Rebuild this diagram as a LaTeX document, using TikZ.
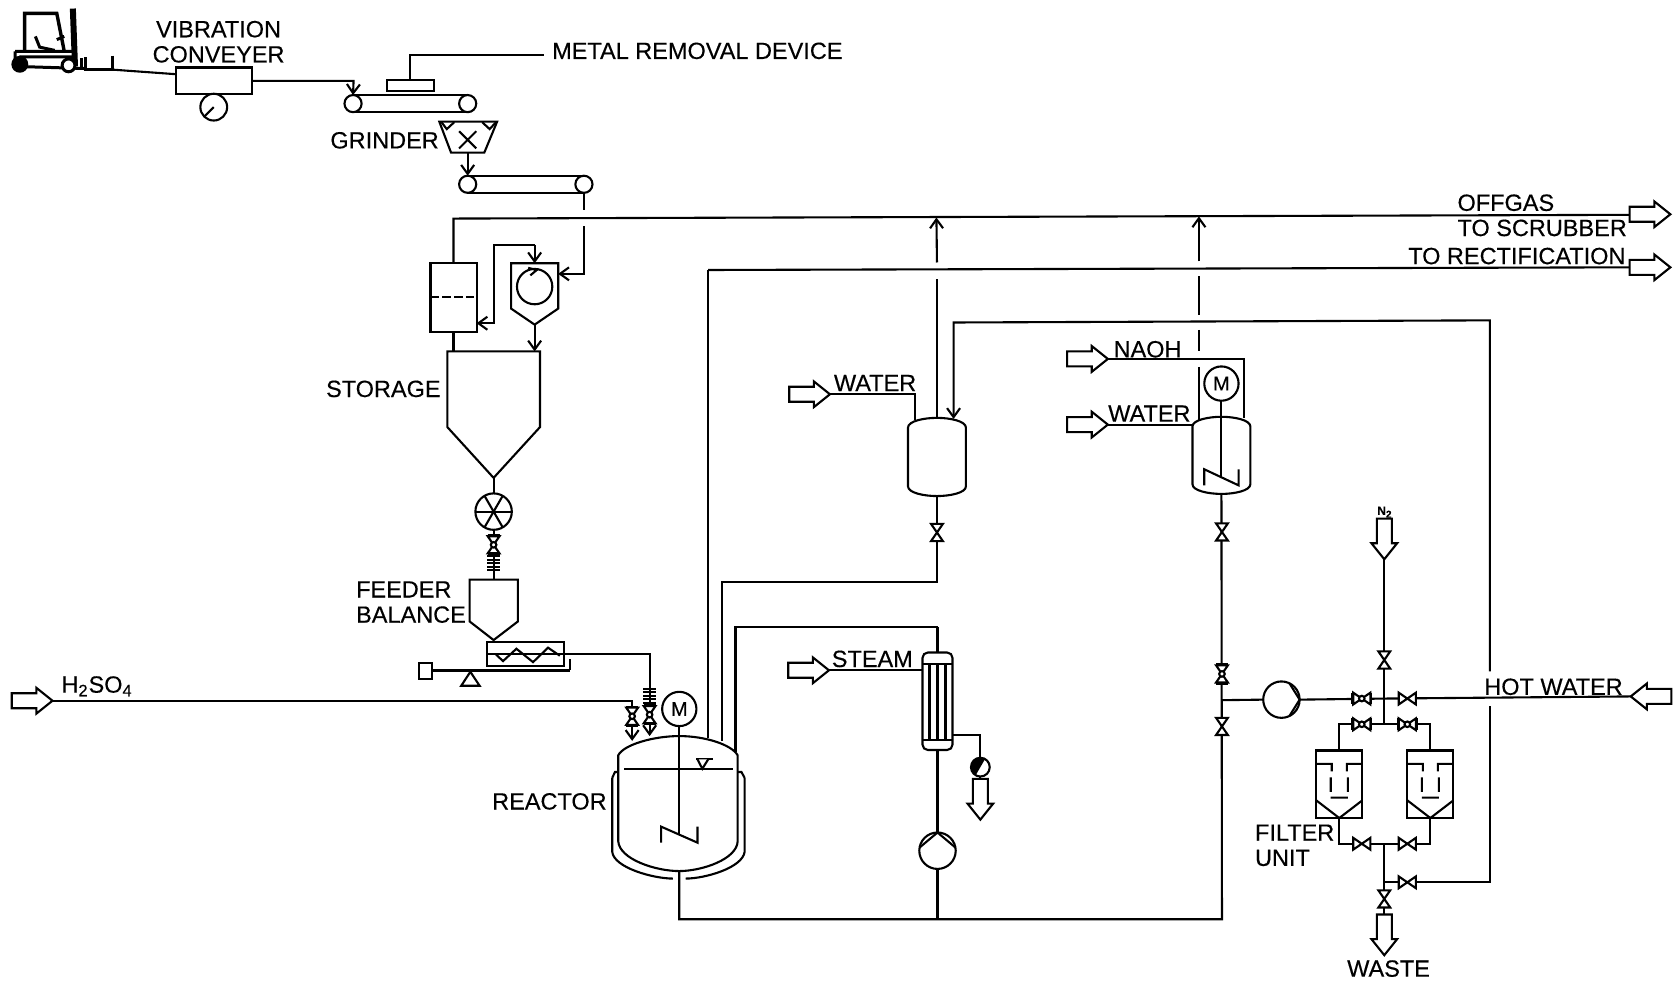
\documentclass[tikz,border=0pt]{standalone}
\usepackage{fontspec}
\setmainfont[RawFeature={embolden=0.35}]{Liberation Sans}
\usetikzlibrary{arrows.meta}

\newcommand{\unitpx}{0.53571pt}

\tikzset{
  pipe/.style={line width=1.05pt},
  flow/.style={pipe,-{Straight Barb[length=4.5pt,width=6.5pt]}},
  unit/.style={draw,pipe,fill=white,inner sep=0,outer sep=0},
  roller/.style={unit,circle,minimum size=16*\unitpx},
  pump/.style={unit,circle,minimum size=34*\unitpx},
  motor/.style={unit,circle,minimum size=32*\unitpx,font=\fontsize{10}{10}\selectfont},
  tag/.style={inner sep=0,anchor=west,align=left,font=\fontsize{11.75}{12.6}\selectfont},
  valve/.pic={\draw[pipe,fill=white] (-8,-5.5) -- (8,5.5) -- (8,-5.5) -- (-8,5.5) -- cycle;},
  ballvalve/.pic={
    \draw[pipe,fill=white] (-8,-5.5) -- (8,5.5) -- (8,-5.5) -- (-8,5.5) -- cycle;
    \draw[pipe] (-9,-5.5) -- (-9,5.5) (9,-5.5) -- (9,5.5);
    \draw[pipe,fill=white] (0,0) circle[radius=2.6];},
  bellows/.pic={\foreach \b in {-8,-4.8,...,8.1} \draw[pipe] (-6,\b) -- (6,\b);},
  blockarrow/.pic={\draw[pipe,fill=white] (-38,-7) -- (-15,-7) -- (-15,-12) -- (0,0)
    -- (-15,12) -- (-15,7) -- (-38,7) -- cycle;},
}

% stirrer blade under a shaft, #1 = centre on the shaft, #2 = half width
\newcommand{\blade}[2]{\draw[pipe] ([shift={(-#2,8)}]#1) -- ([shift={(-#2,-7)}]#1)
  -- ([shift={(#2,8)}]#1) -- ([shift={(#2,-7)}]#1);}

% dished vessel: #1 name, #2 centre x, #3 top, #4 bottom, #5 half width
\newcommand{\vessel}[5]{
  \draw[pipe,fill=white] ({#2-#5},{#3+9}) .. controls ({#2-#5},{#3+3}) and ({#2-12},{#3}) .. (#2,#3)
    .. controls ({#2+12},{#3}) and ({#2+#5},{#3+3}) .. ({#2+#5},{#3+9})
    -- ({#2+#5},{#4-9}) .. controls ({#2+#5},{#4-3}) and ({#2+12},{#4}) .. (#2,#4)
    .. controls ({#2-12},{#4}) and ({#2-#5},{#4-3}) .. ({#2-#5},{#4-9}) -- cycle;
  \coordinate (#1Top) at (#2,#3);
  \coordinate (#1Bot) at (#2,#4);}

% filter housing, #1 name, #2 centre x
\newcommand{\filterunit}[2]{
  \node[unit,minimum width=43*\unitpx,minimum height=63*\unitpx] (#1) at (#2,732) {};
  \draw[pipe] ({#2-21.5},713) -- ({#2-7},713) -- ({#2-7},720)
    ({#2+21.5},713) -- ({#2+7},713) -- ({#2+7},720)
    ({#2-8},725.5) -- ({#2-8},739) ({#2+8},725.5) -- ({#2+8},739)
    ({#2-8},744.5) -- ({#2+8},744.5)
    ({#2-21.5},747) -- (#2,763.5) -- ({#2+21.5},747);}

\begin{document}
\begin{tikzpicture}[x=\unitpx,y=-\unitpx]
  \useasboundingbox (0,0) rectangle (1568,916);

  % fork lift
  \draw[line width=1.7pt] (23,48) -- (23,12.5) -- (53,12.5) -- (60,48);
  \draw[line width=3pt] (68,8) -- (70,62);
  \draw[line width=1.5pt] (14,48) -- (71,48) (15,62) -- (80,64) (14,48) -- (14,60) (18,53) -- (70,53);
  \draw[line width=1.5pt] (33,34) -- (37,44) -- (51,47) (53,37) -- (60,34);
  \node[unit,circle,minimum size=12*\unitpx,line width=2pt,fill=black] (wheelA) at (18.5,60) {};
  \node[unit,circle,minimum size=12*\unitpx,line width=1.5pt] (wheelB) at (64,61) {};
  \coordinate (forkHeel) at (80,65);
  \coordinate (forkTip) at (105,65);
  \coordinate (forkTop) at (105,52);
  \draw[line width=1.6pt] (76,54) -- (76,65) (forkTop) -- (forkTip) -- (forkHeel) -- (80,53);

  % feeding line
  \node[unit,minimum width=71*\unitpx,minimum height=25*\unitpx] (conveyer) at (199.5,75.5) {};
  \node[unit,circle,minimum size=25*\unitpx] (gauge) at (199.5,100) {};
  \draw[pipe] (gauge.center) -- (gauge.225);
  \node[tag,anchor=center,align=center] (lblConveyer) at (204,39) {VIBRATION\\CONVEYER};
  \draw[pipe] (forkTip) -- (conveyer.170);

  \node[roller] (beltAl) at (329.5,96.7) {};
  \node[roller] (beltAr) at (436.5,96.7) {};
  \draw[pipe] (beltAl.north) -- (beltAr.north) (beltAl.south) -- (beltAr.south);
  \coordinate (beltAin) at (330,75.5);
  \draw[flow] (conveyer.east) -- (beltAin) -- (beltAl.north);

  \node[unit,minimum width=44*\unitpx,minimum height=10*\unitpx] (metal) at (383,80) {};
  \node[tag] (lblMetal) at (515,47.5) {METAL REMOVAL DEVICE};
  \coordinate (metalBend) at (383,51);
  \coordinate (metalEnd) at (508,51);
  \draw[pipe] (metal.north) -- (metalBend) -- (metalEnd);

  \coordinate (grindTop) at (436.5,113.5);
  \coordinate (grindBot) at (436.5,142.5);
  \draw[pipe] (410,113.5) -- (464,113.5) -- (452,142.5) -- (421,142.5) -- cycle;
  \draw[pipe] (412,114) -- (417,120.5) -- (424,114) (450,114) -- (457,120.5) -- (463,114);
  \draw[pipe] (428.5,122.5) -- (444.5,138.5) (444.5,122.5) -- (428.5,138.5);
  \node[tag] (lblGrinder) at (308,131) {GRINDER};

  \node[roller] (beltBl) at (436.5,172) {};
  \node[roller] (beltBr) at (545,172) {};
  \draw[pipe] (beltBl.north) -- (beltBr.north) (beltBl.south) -- (beltBr.south);
  \draw[flow] (grindBot) -- (beltBl.north);

  \coordinate (dropA) at (545,196);
  \coordinate (dropB) at (545,211);
  \coordinate (dropC) at (545,255.6);
  \coordinate (cycloneIn) at (521,255.6);
  \draw[pipe] (beltBr.south) -- (dropA);
  \draw[flow] (dropB) -- (dropC) -- (cycloneIn);

  % cyclone and surge box
  \coordinate (cycloneTop) at (499,245.7);
  \coordinate (cycloneTip) at (499,303);
  \draw[pipe] (477,245.7) -- (521,245.7) -- (521,288) -- (cycloneTip) -- (477,288) -- cycle;
  \node[unit,circle,minimum size=33*\unitpx] (cycloneWheel) at (499,267.5) {};
  \draw[pipe] (493,250) -- (501,252) -- (495,257);
  \node[unit,minimum width=43*\unitpx,minimum height=64*\unitpx] (surge) at (423.3,277.5) {};
  \draw[pipe,dash pattern=on 8*\unitpx off 3*\unitpx] (surge.west) -- (surge.east);
  \coordinate (returnA) at (461,228.6);
  \coordinate (returnB) at (499,228.6);
  \coordinate (returnC) at (461,301.7);
  \coordinate (returnD) at (444.8,301.7);
  \draw[flow] (returnB) -- (returnA) -- (returnC) -- (returnD);
  \draw[flow] (returnB) -- (cycloneTop);

  % offgas and rectification headers
  \coordinate (offgasCorner) at (423.3,204);
  \coordinate (offgasEnd) at (1521,200.5);
  \coordinate (offgasTee) at (874,203);
  \coordinate (scrubTee) at (1119,202);
  \pic at (1559,200) {blockarrow};
  \draw[pipe] (surge.north) -- (offgasCorner) -- (offgasEnd);
  \coordinate (rectCorner) at (661,252);
  \coordinate (rectEnd) at (1521,249.5);
  \pic at (1559,249.5) {blockarrow};
  \draw[pipe] (rectCorner) -- (rectEnd);
  \node[tag] (lblOffgas) at (1360,201) {OFFGAS\\TO SCRUBBER};
  \node[tag] (lblRect) at (1314,239) {TO RECTIFICATION};

  % storage silo
  \coordinate (siloTop) at (460.7,328);
  \coordinate (siloTip) at (460.7,446);
  \draw[pipe] (417.5,328) -- (504,328) -- (504,398.6) -- (siloTip) -- (417.5,398.6) -- cycle;
  \draw[flow] (cycloneTip) -- (cycloneTop |- siloTop);
  \draw[pipe] (surge.south) -- (surge.south |- siloTop);
  \node[tag] (lblStorage) at (304,363) {STORAGE};

  \node[unit,circle,minimum size=34*\unitpx] (rotary) at (460.7,477.5) {};
  \foreach \a/\b in {0/180,60/240,120/300} \draw[pipe] (rotary.\a) -- (rotary.\b);
  \draw[pipe] (siloTip) -- (rotary.north);

  % feeder balance
  \coordinate (feederTop) at (460.7,541);
  \coordinate (feederTip) at (460.7,597.4);
  \draw[pipe] (438.3,541) -- (483.4,541) -- (483.4,580) -- (feederTip) -- (438.3,580) -- cycle;
  \draw[pipe] (rotary.south) -- (feederTop);
  \pic[rotate=90] at (460.7,508.5) {ballvalve};
  \pic at (460.7,524) {bellows};
  \node[tag] (lblFeeder) at (332,562) {FEEDER\\BALANCE};

  \node[unit,minimum width=72*\unitpx,minimum height=22.6*\unitpx] (screw) at (490.5,610.7) {};
  \draw[pipe] (screw.west) -- (screw.east);
  \draw[pipe] (463,611) -- (469.5,617) -- (482,605.5) -- (497.5,618) -- (511.5,604.5) -- (522.5,612);
  \coordinate (leverA) at (403.2,625.5);
  \coordinate (leverB) at (531.6,625.5);
  \coordinate (leverC) at (531.6,615);
  \draw[line width=1.4pt] (leverA) -- (leverB);
  \draw[pipe] (leverB) -- (leverC);
  \node[unit,minimum width=12.5*\unitpx,minimum height=15*\unitpx] (weight) at (397,626) {};
  \draw[pipe] (439,627) -- (447.6,640) -- (430.5,640) -- cycle;

  % reactor
  \coordinate (solidsBend) at (606.3,610);
  \coordinate (solidsIn) at (606.3,687);
  \draw[flow] (screw.east |- solidsBend) -- (solidsBend) -- (solidsIn);
  \pic at (606.3,651) {bellows};
  \pic[rotate=90] at (606.3,667) {ballvalve};
  \coordinate (acidTip) at (49,654);
  \coordinate (acidBend) at (590,654);
  \coordinate (acidIn) at (590,691.5);
  \pic at (acidTip) {blockarrow};
  \draw[flow] (acidTip) -- (acidBend) -- (acidIn);
  \pic[rotate=90] at (590,668.5) {ballvalve};
  \node[tag] (lblAcid) at (57,640.5) {H\textsubscript{2}SO\textsubscript{4}};

  \draw[pipe] (571.4,726) -- (574,720.5) -- (577,720.5);
  \draw[pipe] (695,726) -- (692,720.5) -- (689,720.5);
  \draw[pipe] (571.4,726) -- (571.4,795) .. controls (573,810) and (610,820) .. (628,820);
  \draw[pipe] (695,726) -- (695,795) .. controls (693,810) and (658,820) .. (640,820);
  \draw[pipe,fill=white] (577,705) .. controls (582,695) and (610,687) .. (634,687)
    .. controls (658,687) and (683,695) .. (688.5,705) -- (688.5,785)
    .. controls (688,802) and (655,813) .. (634,813)
    .. controls (612,813) and (578,802) .. (577,785) -- cycle;
  \coordinate (rxTop) at (634,687);
  \coordinate (rxBot) at (634,813);
  \node[tag] (lblReactor) at (459,748) {REACTOR};
  \node[motor] (rxMotor) at (634,661.7) {M};
  \coordinate (rxShaft) at (634,778.5);
  \draw[pipe] (rxMotor.south) -- (rxShaft);
  \blade{rxShaft}{17}
  \draw[pipe] (582.4,718) -- (684.5,718);
  \draw[pipe,fill=white] (649.6,708.7) -- (665,708.7);
  \draw[pipe,fill=white] (651,708.7) -- (655.5,717.5) -- (661,708.7);

  \coordinate (rxOutA) at (661,689);
  \coordinate (rxOutB) at (673.7,692);
  \coordinate (rxOutC) at (686.5,702);
  \draw[pipe] (rxOutA) -- (rectCorner);

  % washing vessel
  \vessel{wash}{874.5}{390}{463}{27}
  \coordinate (washIn) at (854,392);
  \coordinate (waterAbend) at (854,368);
  \coordinate (waterAtip) at (774.6,368);
  \pic at (waterAtip) {blockarrow};
  \draw[pipe] (waterAtip) -- (waterAbend) -- (washIn);
  \node[tag] (lblWaterA) at (778,357.5) {WATER};
  \coordinate (ventAgap) at (874.5,260);
  \coordinate (ventBgap) at (874.5,245);
  \draw[pipe] (washTop) -- (ventAgap);
  \draw[flow] (ventBgap) -- (offgasTee);
  \coordinate (washValve) at (874.5,497);
  \coordinate (washBend) at (874.5,543);
  \coordinate (rxBendB) at (673.7,543);
  \draw[pipe] (washBot) -- (washBend) -- (rxBendB) -- (rxOutB);
  \pic[rotate=90] at (washValve) {valve};

  % caustic vessel
  \vessel{caustic}{1140}{389}{461}{27}
  \node[motor] (causticMotor) at (1140,358) {M};
  \coordinate (causticShaft) at (1140,445);
  \draw[pipe] (causticMotor.south) -- (causticShaft);
  \blade{causticShaft}{16}
  \coordinate (naohTip) at (1034,335);
  \coordinate (naohBend) at (1161,335);
  \coordinate (naohIn) at (1161,390.5);
  \pic at (naohTip) {blockarrow};
  \draw[pipe] (naohTip) -- (naohBend) -- (naohIn);
  \node[tag] (lblNaoh) at (1039,326) {NAOH};
  \coordinate (waterBtip) at (1034,396.3);
  \coordinate (waterBin) at (1113.5,396.3);
  \pic at (waterBtip) {blockarrow};
  \draw[pipe] (waterBtip) -- (waterBin);
  \node[tag] (lblWaterB) at (1034,386) {WATER};
  \coordinate (ventC) at (1119,244);
  \coordinate (ventD) at (1119,258);
  \coordinate (ventE) at (1119,294);
  \coordinate (ventF) at (1119,308);
  \coordinate (ventG) at (1119,328);
  \coordinate (ventH) at (1119,342.5);
  \coordinate (ventI) at (1119,392);
  \draw[flow] (ventC) -- (scrubTee);
  \draw[pipe] (ventD) -- (ventE) (ventF) -- (ventG) (ventH) -- (ventI);

  % steam heater
  \coordinate (rxBendC) at (686.5,585);
  \coordinate (heaterFeed) at (875,585);
  \draw[pipe] (rxOutC) -- (rxBendC) -- (heaterFeed);
  \draw[pipe,fill=white,rounded corners=5*\unitpx] (861,609) rectangle (889,700);
  \coordinate (heaterTop) at (875,609);
  \coordinate (heaterBot) at (875,700);
  \draw[pipe] (heaterFeed) -- (heaterTop);
  \draw[pipe] (861,619.5) -- (889,619.5) (861,691) -- (889,691);
  \foreach \t in {867.5,875,882.5} \draw[pipe] (\t,619.5) -- (\t,691);
  \coordinate (steamTip) at (773.7,625.6);
  \coordinate (steamIn) at (861,625.6);
  \pic at (steamTip) {blockarrow};
  \draw[pipe] (steamTip) -- (steamIn);
  \node[tag] (lblSteam) at (776,615) {STEAM};
  \coordinate (condOut) at (889,686);
  \coordinate (condBend) at (915,686);
  \node[unit,circle,minimum size=17.5*\unitpx] (trap) at (915,716) {};
  \fill (trap.60) arc[start angle=60,end angle=240,radius=4.69pt] -- cycle;
  \coordinate (condTail) at (915,730);
  \draw[pipe] (condOut) -- (condBend) -- (trap.north) (trap.south) -- (condTail);
  \pic[rotate=-90] at (915,765) {blockarrow};
  \node[pump] (pumpA) at (875,794) {};
  \draw[pipe] (pumpA.170) -- (pumpA.north) -- (pumpA.10);

  % bottom header
  \coordinate (bottomA) at (634,858);
  \coordinate (bottomB) at (875,858);
  \coordinate (bottomC) at (1140.5,858);
  \coordinate (causticTee) at (1140.5,653.5);
  \draw[pipe] (heaterBot) -- (pumpA.north) (pumpA.south) -- (bottomB);
  \draw[pipe] (rxBot) -- (bottomA) -- (bottomC) -- (causticBot);
  \pic[rotate=90] at (1140.5,496.5) {valve};
  \pic[rotate=90] at (1140.5,629) {ballvalve};
  \pic[rotate=90] at (1140.5,678) {valve};

  % filter station
  \node[pump] (pumpB) at (1196,653) {};
  \draw[pipe] (pumpB.64) -- (pumpB.east) -- (pumpB.-64);
  \draw[pipe] (causticTee) -- (pumpB.west);
  \coordinate (hotTip) at (1522,650);
  \coordinate (nitroTee) at (1292,652);
  \coordinate (nitroTip) at (1292,522);
  \coordinate (nitroLow) at (1292,676);
  \draw[pipe] (pumpB.east) -- (nitroTee) -- (hotTip);
  \pic[rotate=-90] at (nitroTip) {blockarrow};
  \draw[pipe] (nitroTip) -- (nitroLow);
  \node[inner sep=0,font=\fontsize{6}{6}\selectfont\bfseries] (lblNitro) at (1292.6,478) {N\textsubscript{2}};
  \node[tag] (lblHot) at (1385,641) {HOT WATER};
  \pic[rotate=180] at (1522,650) {blockarrow};

  \filterunit{filterA}{1250}
  \filterunit{filterB}{1335}
  \coordinate (topBendA) at (1250,676);
  \coordinate (topBendB) at (1335,676);
  \draw[pipe] (filterA.north) -- (topBendA) -- (topBendB) -- (filterB.north);
  \coordinate (lowBendA) at (1250,787.5);
  \coordinate (lowBendB) at (1335,787.5);
  \draw[pipe] (filterA.south) -- (lowBendA) -- (lowBendB) -- (filterB.south);
  \node[tag] (lblFilter) at (1171,789) {FILTER\\UNIT};

  \coordinate (lowTee) at (1292,787.5);
  \coordinate (washTee) at (1292,823.5);
  \coordinate (wasteTail) at (1292,858);
  \coordinate (hotRetA) at (1390.6,823.5);
  \coordinate (hotRetB) at (1390.6,659);
  \coordinate (hotRetC) at (1390.6,626.5);
  \coordinate (hotRetD) at (1390.6,299);
  \coordinate (hotRetE) at (890,301);
  \coordinate (washRet) at (890,391);
  \draw[pipe] (lowTee) -- (wasteTail);
  \draw[pipe] (washTee) -- (hotRetA) -- (hotRetB);
  \draw[flow] (hotRetC) -- (hotRetD) -- (hotRetE) -- (washRet);
  \pic[rotate=-90] at (1292,891.5) {blockarrow};
  \node[tag,anchor=center] (lblWaste) at (1296,904) {WASTE};

  \pic[rotate=90] at (1292,616) {valve};
  \pic at (1271,652) {ballvalve};
  \pic at (1313.5,652) {valve};
  \pic at (1271,676) {ballvalve};
  \pic at (1313.5,676) {ballvalve};
  \pic at (1271,787.5) {valve};
  \pic at (1313.5,787.5) {valve};
  \pic at (1313.5,823.5) {valve};
  \pic[rotate=90] at (1292,839) {valve};
\end{tikzpicture}
\end{document}
